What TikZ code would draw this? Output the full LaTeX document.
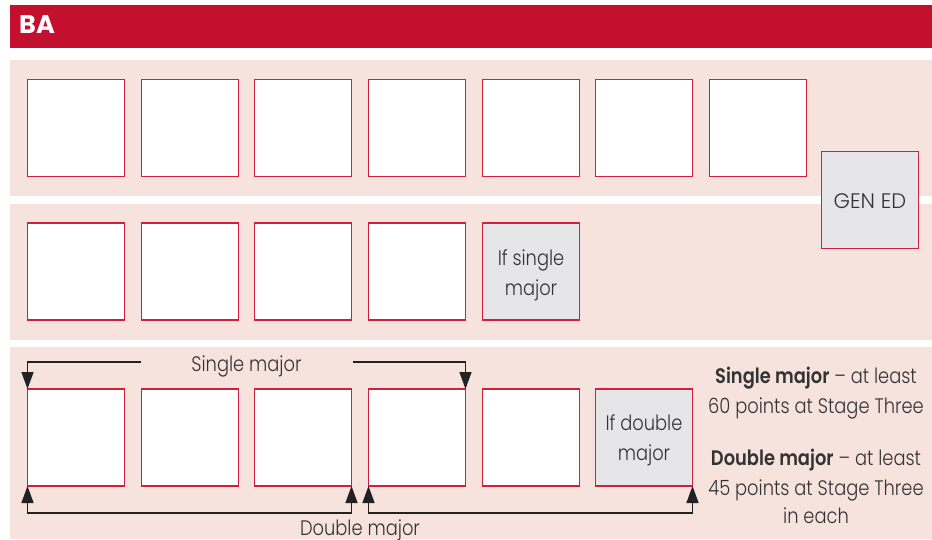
\documentclass[tikz,border=0pt]{standalone}
\usepackage{fontspec}
\setmainfont{Poppins}[UprightFont=* Light, BoldFont=* SemiBold, FakeStretch=0.85]
\newfontfamily\widefont{Poppins}[UprightFont=* Light, BoldFont=* Bold]
\usetikzlibrary{arrows.meta}
\definecolor{hdr}{HTML}{C3102F}
\definecolor{band}{HTML}{F7E3DE}
\definecolor{bord}{HTML}{D11F3D}
\definecolor{gfill}{HTML}{E6E6E8}
\definecolor{txt}{HTML}{333333}
\definecolor{arrc}{HTML}{222222}
\begin{document}
\begin{tikzpicture}[x=1pt,y=-1pt,
  cbox/.style={draw=bord, line width=1.1pt, fill=white, minimum width=97pt, minimum height=97pt, inner sep=0pt, outer sep=0pt},
  gbox/.style={cbox, fill=gfill},
  lbl/.style={text=txt, font=\fontsize{21}{30}\selectfont, inner sep=0pt, anchor=base},
  brk/.style={draw=arrc, line width=1.4pt, -{Triangle[length=17pt,width=12pt]}},
  brkk/.style={draw=arrc, line width=1.4pt, {Triangle[length=17pt,width=12pt]}-{Triangle[length=17pt,width=12pt]}},
]
\useasboundingbox (0,0) rectangle (932,539);
\fill[white] (0,0) rectangle (932,539);
\fill[hdr] (10,5) rectangle (932,48);
\fill[band] (10,60) rectangle (932,195.5);
\fill[band] (10,204) rectangle (932,339.5);
\fill[band] (10,347) rectangle (932,539);
\node[text=white, font=\widefont\fontsize{25.5}{30}\selectfont\bfseries, anchor=base west, inner sep=0pt] (ba) at (19,33.3) {BA};
% row 1
\foreach \i/\x in {1/76,2/190,3/303,4/417,5/531,6/644,7/758}
  \node[cbox] (a\i) at (\x,128) {};
% row 2
\foreach \i/\x in {1/76,2/190,3/303,4/417}
  \node[cbox] (b\i) at (\x,271.5) {};
\node[gbox] (b5) at (531,271.5) {};
% row 3
\foreach \i/\x in {1/76,2/190,3/303,4/417,5/531}
  \node[cbox] (c\i) at (\x,437.5) {};
\node[gbox] (c6) at (644,437.5) {};
% gen ed
\node[gbox] (ge) at (870,200) {};
% box texts
\node[lbl, font=\widefont\fontsize{21}{30}\selectfont] (ge1) at (870,208.3) {GEN ED};
\node[lbl] (bs1) at (531,265) {If single};
\node[lbl] (bs2) at (531,295) {major};
\node[lbl] (cd1) at (644,430.7) {If double};
\node[lbl] (cd2) at (644,460.7) {major};
% single major bracket
\node[lbl] (sm) at (246.5,371.7) {Single major};
\coordinate (sL) at (140.5,362);
\coordinate (sR) at (353,362);
\draw[brk] (sL) -| (c1.north west);
\draw[brk] (sR) -| (c4.north east);
% double major brackets
\draw[brkk] (c1.south west) -- ++(0,27) -| (c3.south east);
\draw[brkk] (c4.south west) -- ++(0,27) -| (c6.south east);
\node[lbl] (dm) at (360,535) {Double major};
% right notes
\node[lbl] (r1) at (816,383.3) {\textbf{Single major} – at least};
\node[lbl] (r2) at (816,413.7) {60 points at Stage Three};
\node[lbl] (r3) at (816,465) {\textbf{Double major} – at least};
\node[lbl] (r4) at (816,495) {45 points at Stage Three};
\node[lbl] (r5) at (816,523.7) {in each};
\end{tikzpicture}
\end{document}
